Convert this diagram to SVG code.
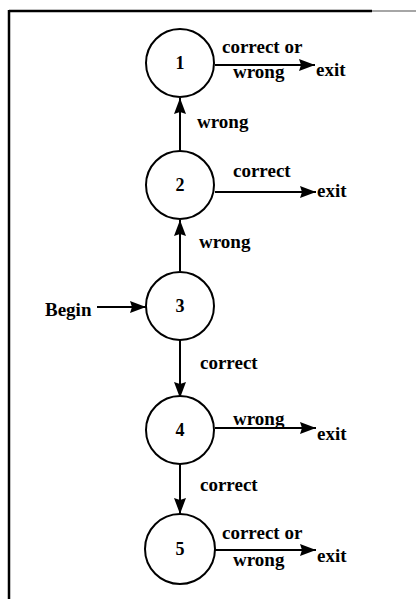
<svg xmlns="http://www.w3.org/2000/svg" width="416" height="599" viewBox="0 0 416 599">
<defs>
<marker id="ah" viewBox="0 0 16 12" refX="16" refY="6" markerWidth="16" markerHeight="12" orient="auto" markerUnits="userSpaceOnUse">
<path d="M0,0 L16,6 L0,12 L2,6 z" fill="#000"/>
</marker>
<style>
.n{fill:#fff;stroke:#000;stroke-width:2}
.t{font-family:"Liberation Serif","Times New Roman",serif;font-weight:bold;font-size:19px;fill:#000}
.d{font-family:"Liberation Serif","Times New Roman",serif;font-weight:bold;font-size:18px;fill:#000;text-anchor:middle}
.e{stroke:#000;stroke-width:2;fill:none;marker-end:url(#ah)}
</style>
</defs>
<rect width="416" height="599" fill="#fff"/>
<g id="frame">
<line x1="9" y1="11" x2="372" y2="11" stroke="#000" stroke-width="2.5"/>
<line x1="372" y1="11" x2="416" y2="11" stroke="#888" stroke-width="1.5"/>
<line x1="9" y1="10" x2="9" y2="599" stroke="#000" stroke-width="2.5"/>
</g>
<g id="connectors">
<line class="e" x1="180" y1="151" x2="180" y2="98"/>
<line class="e" x1="180" y1="271" x2="180" y2="220"/>
<line class="e" x1="180" y1="340" x2="180" y2="398"/>
<line class="e" x1="180" y1="464" x2="180" y2="514"/>
<line class="e" x1="97" y1="307" x2="146" y2="307"/>
<line class="e" x1="215" y1="65" x2="315" y2="65"/>
<line class="e" x1="215" y1="192" x2="316" y2="192"/>
<line class="e" x1="215" y1="428" x2="316" y2="428"/>
<line class="e" x1="215" y1="550" x2="316" y2="550"/>
</g>
<g id="labels">
<text class="t" x="222" y="53">correct or</text>
<text class="t" x="233" y="78">wrong</text>
<text class="t" x="316" y="76">exit</text>
<text class="t" x="197" y="128">wrong</text>
<text class="t" x="233" y="177">correct</text>
<text class="t" x="317" y="197">exit</text>
<text class="t" x="199" y="248">wrong</text>
<text class="t" x="45" y="316">Begin</text>
<text class="t" x="200" y="369">correct</text>
<text class="t" x="233" y="425">wrong</text>
<text class="t" x="317" y="440">exit</text>
<text class="t" x="200" y="491">correct</text>
<text class="t" x="222" y="539">correct or</text>
<text class="t" x="233" y="566">wrong</text>
<text class="t" x="317" y="562">exit</text>
</g>
<g id="node1"><circle class="n" cx="180" cy="63" r="34"/><text class="d" x="180" y="69">1</text></g>
<g id="node2"><circle class="n" cx="180" cy="185" r="34"/><text class="d" x="180" y="191">2</text></g>
<g id="node3"><circle class="n" cx="180" cy="306" r="34"/><text class="d" x="180" y="312">3</text></g>
<g id="node4"><circle class="n" cx="180" cy="430" r="34"/><text class="d" x="180" y="436">4</text></g>
<g id="node5"><circle class="n" cx="180" cy="549" r="35"/><text class="d" x="180" y="555">5</text></g>
</svg>
